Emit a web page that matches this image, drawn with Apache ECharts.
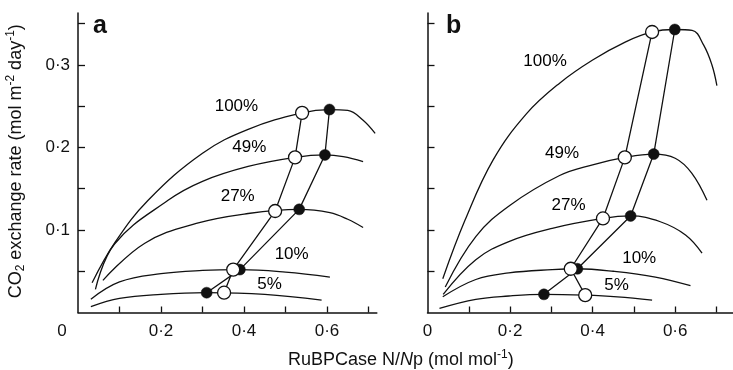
<!DOCTYPE html>
<html>
<head>
<meta charset="utf-8">
<script src="https://cdn.jsdelivr.net/npm/echarts@6/dist/echarts.min.js"></script>
<style>
html,body{margin:0;padding:0;background:#fff;}
#chart{width:733px;height:370px;}
</style>
</head>
<body>
<div id="chart"></div>
<script>
// ---- tick values ----
const xTicks = [0.1, 0.2, 0.3, 0.4, 0.5, 0.6, 0.7];
const xTickLabels = [0, 0.2, 0.4, 0.6];
const yTicks = [0.05, 0.1, 0.15, 0.2, 0.25, 0.3, 0.35];
const yTickLabels = [0.1, 0.2, 0.3];
const curveNames = ['100%', '49%', '27%', '10%', '5%'];

// ---- panel a : curves [N/Np, CO2 exchange rate] ----
const a100 = [[0.034,0.036],[0.088,0.084],[0.169,0.136],[0.3,0.193],[0.41,0.222],[0.54,0.242],[0.606,0.246],[0.65,0.245],[0.687,0.233],[0.716,0.217]];
const a49  = [[0.042,0.028],[0.088,0.083],[0.217,0.136],[0.3,0.159],[0.41,0.177],[0.523,0.188],[0.595,0.191],[0.639,0.189],[0.687,0.183]];
const a27  = [[0.06,0.039],[0.161,0.084],[0.285,0.108],[0.41,0.120],[0.533,0.125],[0.607,0.121],[0.65,0.113],[0.687,0.103]];
const a10  = [[0.031,0.016],[0.1,0.037],[0.2,0.047],[0.3,0.051],[0.39,0.052],[0.5,0.049],[0.607,0.043]];
const a5   = [[0.031,0.007],[0.1,0.017],[0.2,0.022],[0.31,0.024],[0.45,0.022],[0.587,0.015]];
const openA   = [[0.54,0.242],[0.523,0.188],[0.475,0.123],[0.374,0.052],[0.352,0.024]];
const filledA = [[0.606,0.246],[0.595,0.191],[0.533,0.125],[0.39,0.052],[0.31,0.024]];
const labelAtA = [[0.383,0.249],[0.414,0.199],[0.386,0.140],[0.516,0.070],[0.463,0.033]];

// ---- panel b ----
const b100 = [[0.037,0.041],[0.091,0.112],[0.159,0.185],[0.24,0.241],[0.32,0.278],[0.40,0.306],[0.48,0.328],[0.544,0.340],[0.599,0.343],[0.641,0.342],[0.669,0.324],[0.689,0.300],[0.701,0.275]];
const b49  = [[0.043,0.031],[0.117,0.092],[0.2,0.130],[0.32,0.166],[0.40,0.179],[0.478,0.188],[0.548,0.192],[0.6,0.187],[0.64,0.169],[0.677,0.136]];
const b27  = [[0.038,0.022],[0.117,0.064],[0.197,0.086],[0.302,0.102],[0.425,0.114],[0.492,0.117],[0.564,0.110],[0.625,0.094],[0.665,0.072]];
const b10  = [[0.037,0.019],[0.117,0.040],[0.197,0.048],[0.302,0.052],[0.363,0.053],[0.45,0.050],[0.552,0.043],[0.637,0.0325]];
const b5   = [[0.029,0.005],[0.117,0.016],[0.197,0.020],[0.282,0.022],[0.382,0.021],[0.46,0.019],[0.544,0.015]];
const openB   = [[0.544,0.340],[0.478,0.188],[0.425,0.114],[0.347,0.053],[0.382,0.021]];
const filledB = [[0.599,0.343],[0.548,0.192],[0.492,0.117],[0.363,0.053],[0.282,0.022]];
const labelAtB = [[0.286,0.304],[0.327,0.192],[0.343,0.129],[0.514,0.065],[0.459,0.032]];

const FONT = 'Liberation Sans, Arial, Helvetica, sans-serif';
const INK = '#111';

function dot(v){ return v.toFixed(1).replace('.', '\u00b7'); }

function xAxisFor(idx, max, shiftZero){
  return {
    type:'value', gridIndex: idx, min: 0, max: max,
    axisLine:{show:true, onZero:false, lineStyle:{color:INK, width:1.5}},
    axisTick:{show:true, inside:true, length:6, lineStyle:{color:INK, width:1.3}, customValues: xTicks},
    axisLabel:{
      show:true, margin:10, color:INK, fontFamily:FONT, fontSize:17,
      customValues: xTickLabels,
      formatter: function(v){
        if (Math.abs(v) < 1e-9) return shiftZero ? '{z|0}' : '0';
        return dot(v);
      },
      rich:{ z:{fontFamily:FONT, fontSize:17, color:INK, padding:[0,32,0,0]} }
    },
    splitLine:{show:false}
  };
}
function yAxisFor(idx, withLabels){
  const ax = {
    type:'value', gridIndex: idx, min: 0, max: 0.363,
    axisLine:{show:true, onZero:false, lineStyle:{color:INK, width:1.5}},
    axisTick:{show:true, inside:true, length:7, lineStyle:{color:INK, width:1.3}, customValues: yTicks},
    axisLabel:{show:withLabels, margin:8, color:INK, fontFamily:FONT, fontSize:17, customValues: yTickLabels, formatter: dot},
    splitLine:{show:false}
  };
  if (withLabels){
    ax.name = '{n|CO}{sb|2}{n| exchange rate (mol m}{sp|-2}{n| day}{sp|-1}{n|)}';
    ax.nameLocation = 'middle';
    ax.nameRotate = 90;
    ax.nameGap = 51;
    ax.nameTextStyle = {
      fontFamily:FONT, color:INK, padding:[0,0,0,3],
      rich:{
        n:{fontFamily:FONT, fontSize:18, color:INK, lineHeight:22},
        sb:{fontFamily:FONT, fontSize:12, color:INK, lineHeight:22, verticalAlign:'bottom'},
        sp:{fontFamily:FONT, fontSize:12, color:INK, lineHeight:22, verticalAlign:'top'}
      }
    };
  }
  return ax;
}

function curve(data, gi){
  return {type:'line', xAxisIndex:gi, yAxisIndex:gi, data:data, smooth:0.4,
    symbol:'none', lineStyle:{color:INK, width:1.3}, silent:true, z:2};
}
function links(data, gi, open){
  return {type:'line', xAxisIndex:gi, yAxisIndex:gi, data:data, smooth:false,
    symbol:'circle', symbolSize: open ? 13 : 11, showAllSymbol:true,
    lineStyle:{color:INK, width:1.3},
    itemStyle: open ? {color:'#fff', borderColor:INK, borderWidth:1.3} : {color:INK, borderColor:INK, borderWidth:0.5},
    silent:true, z: open ? 4 : 3};
}
function labels(pos, gi){
  return {type:'scatter', xAxisIndex:gi, yAxisIndex:gi, symbolSize:1, itemStyle:{color:'#fff', opacity:0},
    data: pos.map(function(p,i){ return {value:p, name:curveNames[i]}; }),
    label:{show:true, position:[0,0], align:'center', verticalAlign:'middle', formatter:'{b}', color:'#000',
      fontFamily:FONT, fontSize:17, opacity:1, textBorderWidth:0},
    silent:true, z:5};
}

const chart = echarts.init(document.getElementById('chart'), null, {renderer:'canvas'});
chart.setOption({
  animation:false,
  backgroundColor:'#fff',
  title:[
    {text:'a', left:88, top:9, textStyle:{fontFamily:FONT, fontSize:25, fontWeight:'bold', color:INK}},
    {text:'b', left:441, top:9, textStyle:{fontFamily:FONT, fontSize:25, fontWeight:'bold', color:INK}},
    {text:'{n|RuBPCase N/}{i|N}{n|p (mol mol}{sp|-1}{n|)}', left:283, top:344,
      textStyle:{fontFamily:FONT, color:INK, fontWeight:'normal',
        rich:{
          n:{fontFamily:FONT, fontSize:18, fontWeight:'normal', color:INK, lineHeight:22},
          i:{fontFamily:FONT, fontSize:18, fontWeight:'normal', color:INK, fontStyle:'italic', lineHeight:22},
          sp:{fontFamily:FONT, fontSize:12, fontWeight:'normal', color:INK, lineHeight:22, verticalAlign:'top'}
        }}}
  ],
  grid:[
    {left:78, top:13, width:0.72*415, height:299.5},
    {left:427.5, top:13, width:0.74*415, height:299.5}
  ],
  xAxis:[ xAxisFor(0, 0.72, true), xAxisFor(1, 0.74, false) ],
  yAxis:[ yAxisFor(0, true), yAxisFor(1, false) ],
  series:[
    curve(a100,0), curve(a49,0), curve(a27,0), curve(a10,0), curve(a5,0),
    links(filledA,0,false), links(openA,0,true), labels(labelAtA,0),
    curve(b100,1), curve(b49,1), curve(b27,1), curve(b10,1), curve(b5,1),
    links(filledB,1,false), links(openB,1,true), labels(labelAtB,1)
  ]
});
</script>
</body>
</html>
